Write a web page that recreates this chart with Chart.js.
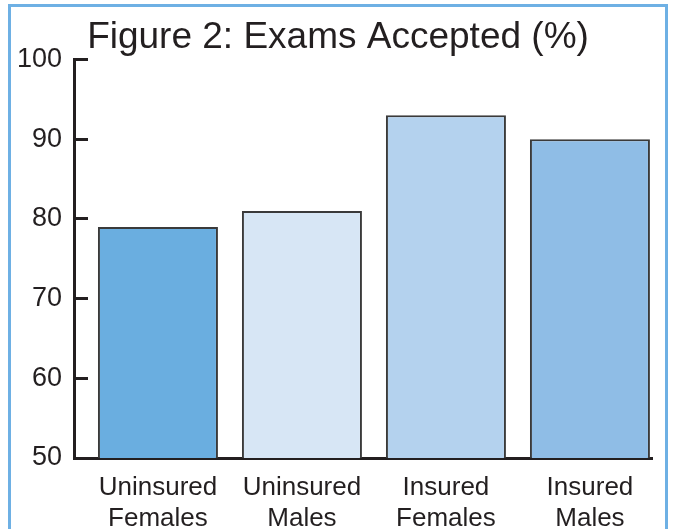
<!DOCTYPE html>
<html>
<head>
<meta charset="utf-8">
<script src="https://cdn.jsdelivr.net/npm/chart.js@4"></script>
<style>
  html, body { margin: 0; padding: 0; background: #ffffff; }
  #wrap { position: relative; width: 673px; height: 529px; overflow: hidden; background: #ffffff; }
  #frame { position: absolute; left: 8px; top: 4px; width: 654px; height: 600px;
           border: 3px solid #6eb0e4; border-bottom: none; }
  #c { position: absolute; left: 0; top: 0; }
</style>
</head>
<body>
<div id="wrap">
  <div id="frame"></div>
  <canvas id="c" width="673" height="529"></canvas>
</div>
<script>
const titleText = 'Figure 2: Exams Accepted (%)';
const categories = [['Uninsured', 'Females'], ['Uninsured', 'Males'], ['Insured', 'Females'], ['Insured', 'Males']];
const values = [79, 81, 93, 90];
const barColors = ['#6aaee0', '#d7e6f5', '#b4d2ee', '#8fbde6'];
const yTicks = [50, 60, 70, 80, 90, 100];

const FONT = "'Liberation Sans', Arial, sans-serif";
const INK = '#231f20';

new Chart(document.getElementById('c'), {
  type: 'bar',
  data: {
    datasets: [{
      data: categories.map((c, i) => ({ x: i, y: values[i] })),
      backgroundColor: barColors,
      borderColor: '#3a3a3a',
      borderWidth: 2,
      borderSkipped: 'bottom',
      barPercentage: 120 / 144,
      categoryPercentage: 1
    }]
  },
  options: {
    responsive: false,
    animation: false,
    devicePixelRatio: 1,
    layout: { padding: { left: 24, right: 21, top: 0, bottom: 0 } },
    plugins: {
      legend: { display: false },
      tooltip: { enabled: false },
      title: {
        display: true,
        text: titleText,
        color: INK,
        font: { family: FONT, size: 37, weight: 'normal', lineHeight: 1.15 },
        padding: { top: 17, bottom: 0 }
      }
    },
    scales: {
      x: {
        type: 'linear',
        offset: false,
        bounds: 'ticks',
        min: -0.583,
        max: 3.431,
        afterFit: (s) => { s.height = 71; },
        grid: { display: false, offset: false },
        border: { display: true, color: INK, width: 3 },
        ticks: {
          stepSize: 1,
          includeBounds: false,
          autoSkip: false,
          maxRotation: 0,
          minRotation: 0,
          padding: 6,
          color: INK,
          font: { family: FONT, size: 26, lineHeight: 1.2 },
          callback: (v) => (Number.isInteger(v) && categories[v]) ? categories[v] : ''
        }
      },
      y: {
        min: 50,
        max: 100,
        afterFit: (s) => { s.width = 50; },
        afterBuildTicks: (s) => { s.ticks = yTicks.map(v => ({ value: v })); },
        grid: {
          drawOnChartArea: false,
          drawTicks: true,
          tickLength: -14,
          tickColor: INK,
          tickWidth: 3
        },
        border: { display: true, color: INK, width: 3 },
        ticks: {
          mirror: true,
          crossAlign: 'far',
          padding: -57,
          color: INK,
          font: { family: FONT, size: 27 }
        }
      }
    }
  }
});
</script>
</body>
</html>
